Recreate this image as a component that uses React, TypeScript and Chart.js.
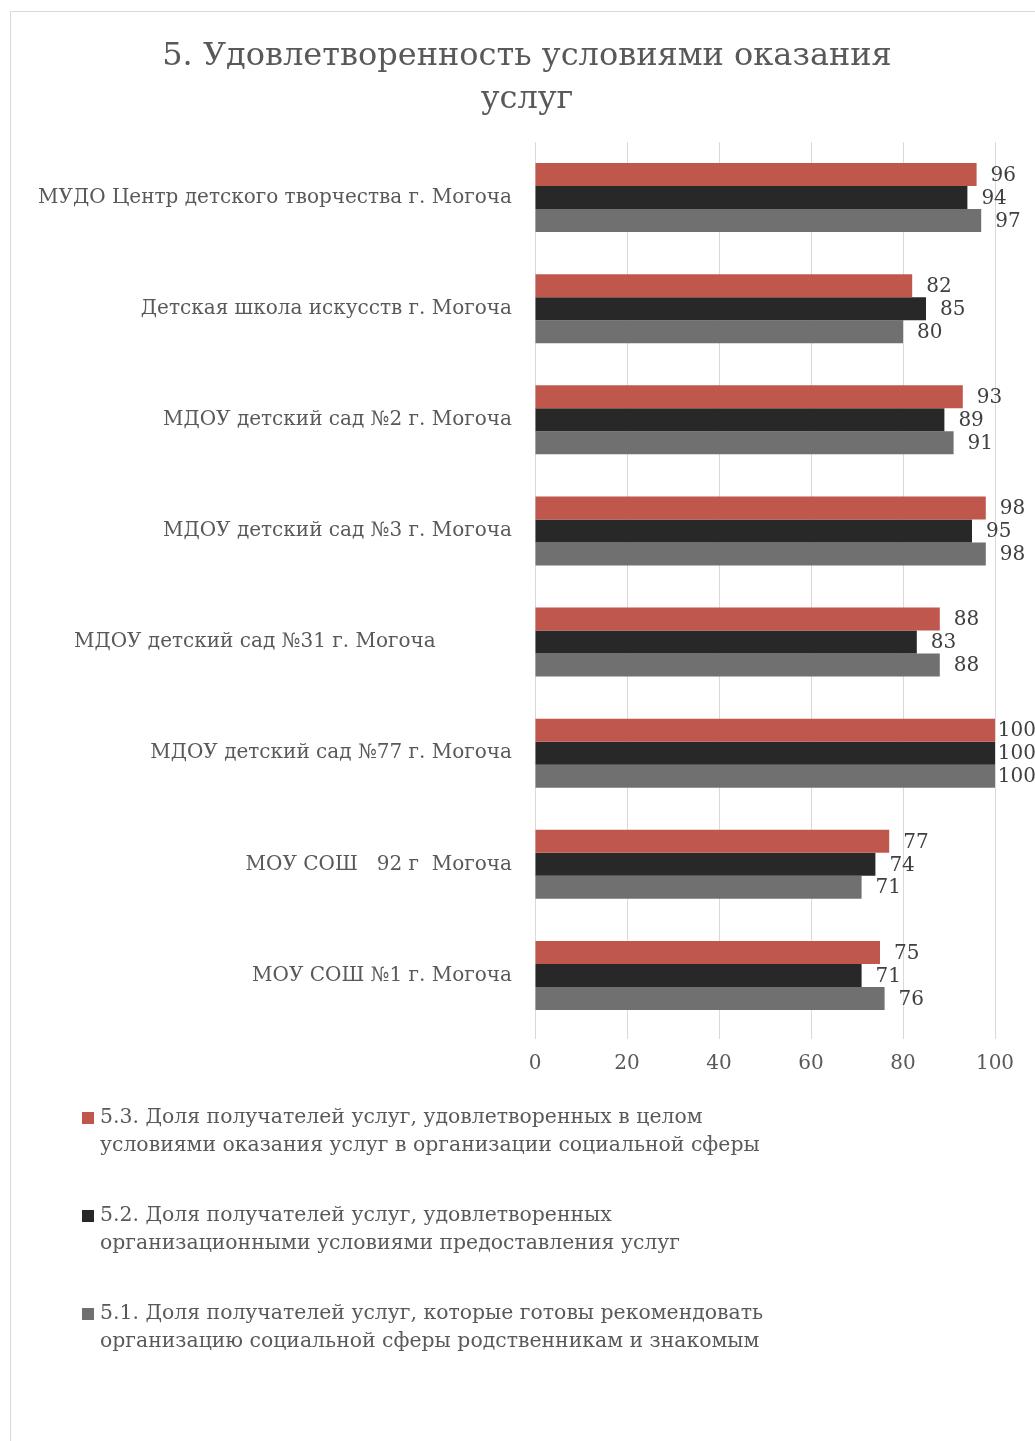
import React, { useEffect, useRef } from "react";
import { Chart, registerables } from "chart.js";

Chart.register(...registerables);

const titleLines = ["5. Удовлетворенность условиями оказания", "услуг"];

const categories = [
  "МУДО Центр детского творчества г. Могоча",
  "Детская школа искусств г. Могоча",
  "МДОУ детский сад №2 г. Могоча",
  "МДОУ детский сад №3 г. Могоча",
  "МДОУ детский сад №31 г. Могоча            ",
  "МДОУ детский сад №77 г. Могоча",
  "МОУ СОШ   92 г  Могоча",
  "МОУ СОШ №1 г. Могоча",
];

const series53 = [96, 82, 93, 98, 88, 100, 77, 75];
const series52 = [94, 85, 89, 95, 83, 100, 74, 71];
const series51 = [97, 80, 91, 98, 88, 100, 71, 76];

const seriesNames = [
  "5.3. Доля получателей услуг, удовлетворенных в целом условиями оказания услуг в организации социальной сферы",
  "5.2. Доля получателей услуг, удовлетворенных организационными условиями предоставления услуг",
  "5.1. Доля получателей услуг, которые готовы рекомендовать организацию социальной сферы родственникам и знакомым",
];

const legendLines = [
  ["5.3. Доля получателей услуг, удовлетворенных в целом", "условиями оказания услуг в организации социальной сферы"],
  ["5.2. Доля получателей услуг, удовлетворенных", "организационными условиями предоставления услуг"],
  ["5.1. Доля получателей услуг, которые готовы рекомендовать", "организацию социальной сферы родственникам и знакомым"],
];

const xMin = 0;
const xMax = 100;
const xStep = 20;

const colors = ["#C0574C", "#282828", "#707070"];
const FONT = "'DejaVu Serif', serif";
const TEXT = "#595959";

const W = 1035;
const H = 1441;

const decorPlugin = {
  id: "decor",
  beforeDraw(chart: any) {
    const ctx = chart.ctx;
    ctx.save();
    ctx.fillStyle = "#ffffff";
    ctx.fillRect(0, 0, chart.width, chart.height);
    ctx.strokeStyle = "#d9d9d9";
    ctx.lineWidth = 1;
    ctx.strokeRect(10.5, 11.5, chart.width + 50, chart.height + 50);
    ctx.restore();
  },
  afterDraw(chart: any) {
    const ctx = chart.ctx;
    ctx.save();
    // title
    ctx.fillStyle = TEXT;
    ctx.font = `32px ${FONT}`;
    ctx.textAlign = "center";
    ctx.textBaseline = "middle";
    titleLines.forEach((t, i) => ctx.fillText(t, 527, 57 + i * 43));
    // data labels
    ctx.font = `20px ${FONT}`;
    ctx.fillStyle = "#404040";
    ctx.textAlign = "left";
    chart.data.datasets.forEach((ds: any, di: number) => {
      const meta = chart.getDatasetMeta(di);
      meta.data.forEach((bar: any, i: number) => {
        const txt = String(ds.data[i]);
        const tw = ctx.measureText(txt).width;
        const x = Math.min(bar.x + 14, chart.width - tw + 1);
        ctx.fillText(txt, x, bar.y + 1);
      });
    });
    // legend
    ctx.font = `20.4px ${FONT}`;
    ctx.fillStyle = TEXT;
    legendLines.forEach((lines, gi) => {
      const y0 = 1118 + gi * 98;
      ctx.fillStyle = colors[gi];
      ctx.fillRect(82, y0 - 6, 12, 12);
      ctx.fillStyle = TEXT;
      lines.forEach((l, li) => ctx.fillText(l, 100, y0 + li * 28));
    });
    ctx.restore();
  },
};

export default function App() {
  const ref = useRef<HTMLCanvasElement | null>(null);
  useEffect(() => {
    if (!ref.current) return;
    const chart = new Chart(ref.current, {
      type: "bar",
      data: {
        labels: categories,
        datasets: [
          { label: seriesNames[0], data: series53, backgroundColor: colors[0] },
          { label: seriesNames[1], data: series52, backgroundColor: colors[1] },
          { label: seriesNames[2], data: series51, backgroundColor: colors[2] },
        ],
      },
      options: {
        indexAxis: "y",
        responsive: false,
        animation: false,
        devicePixelRatio: 1,
        layout: { padding: { top: 142, bottom: 360, left: 0, right: 40 } },
        datasets: { bar: { categoryPercentage: 0.62, barPercentage: 1.0 } },
        plugins: { legend: { display: false }, title: { display: false }, tooltip: { enabled: false } },
        scales: {
          x: {
            min: xMin,
            max: xMax,
            ticks: { stepSize: xStep, color: TEXT, font: { family: FONT, size: 20 }, padding: 13 },
            grid: { color: "#d9d9d9", tickLength: 8, drawTicks: true },
            border: { display: false },
            afterFit: (s: any) => { s.height = 50; },
          },
          y: {
            ticks: { color: TEXT, font: { family: FONT, size: 20 }, padding: 23, autoSkip: false },
            grid: { display: false, drawTicks: false },
            border: { display: false },
            afterFit: (s: any) => { s.width = 535; },
          },
        },
      } as any,
      plugins: [decorPlugin],
    });
    return () => chart.destroy();
  }, []);
  return (
    <div style={{ position: "absolute", left: 0, top: 0, width: W, height: H }}>
      <canvas ref={ref} width={W} height={H} style={{ display: "block" }} />
    </div>
  );
}
